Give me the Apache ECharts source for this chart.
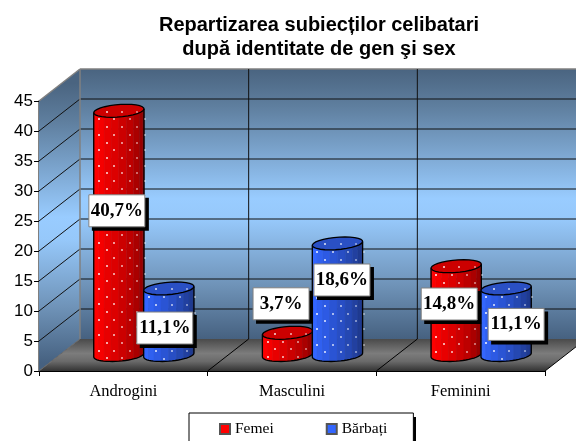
<!DOCTYPE html>
<html><head><meta charset="utf-8">
<style>html,body{margin:0;padding:0;background:#fff;overflow:hidden}#c{width:576px;height:441px}</style>
<script src="https://cdn.jsdelivr.net/npm/echarts@6/dist/echarts.min.js"></script>
</head><body><div id="c"></div>
<script>
const categories = ['Androgini', 'Masculini', 'Feminini'];
const femei = [40.7, 3.7, 14.8];
const barbati = [11.1, 18.6, 11.1];
const yTicks = {min: 0, max: 45, interval: 5};
const seriesNames = ['Femei', 'Bărbați'];

const DX = 41, DY = 32;            // oblique depth of the box
const BAR_DX = 20.5, BAR_DY = 16;  // bars stand half way into the box
const A = 24, VX = 7.5, VY = -6.5; // sheared circle of a cylinder
const T0 = Math.atan2(VX, A), FACETS = 10;
const palettes = [
  {facets:['#ff0000','#ff0000','#f60000','#e80000','#dc0000','#cc0000','#bd0000','#aa0000','#980000','#880000'], top:'#cc0000'},
  {facets:['#3366ff','#3366ff','#3060f0','#2d5ae4','#2a54d4','#284ec4','#2548b2','#2240a0','#1f3a90','#1c3480'], top:'#2a50c4'}
];
// label-box centre relative to the bar's base centre (x) and top (y)
const labelNudge = [
  [[-2, 100], [-4, 39.6]],
  [[-6.5, -29], [4.5, 36.6]],
  [[-7, 37.8], [10, 36]]
];

function ell(cx, cy, t) {
  return [cx + A * Math.cos(t) + VX * Math.sin(t), cy + VY * Math.sin(t)];
}
function frontY(cx, cy, x) {
  let lo = -Infinity, hi = Infinity;
  for (let i = 0; i < 120; i++) {
    const p = ell(cx, cy, i / 120 * Math.PI * 2);
    if (Math.abs(p[0] - x) < 1.6) { lo = Math.max(lo, p[1]); hi = Math.min(hi, p[1]); }
  }
  return [hi, lo];
}
function dot(x, y, alpha) {
  return {type:'rect', shape:{x:Math.round(x) - 1, y:Math.round(y) - 1, width:2, height:2},
    style:{fill:'rgba(255,255,255,' + alpha + ')'}, silent:true};
}
function cylinder(idx) {
  return function (params, api) {
    const i = api.value(0), v = api.value(1);
    const base = api.coord([i, 0]), top = api.coord([i, v]);
    const shift = (idx === 0 ? -1 : 1) * api.size([1, 0])[0] * 0.148;
    const cx = base[0] + BAR_DX + shift, by = base[1] - BAR_DY, ty = top[1] - BAR_DY;
    const pal = palettes[idx], ch = [];
    for (let k = 0; k < FACETS; k++) {
      const a = T0 + Math.PI + k * Math.PI / FACETS, b = T0 + Math.PI + (k + 1) * Math.PI / FACETS;
      ch.push({type:'polygon', shape:{points:[ell(cx, by, a), ell(cx, by, b), ell(cx, ty, b), ell(cx, ty, a)]},
        style:{fill:pal.facets[k], stroke:pal.facets[k], lineWidth:0.5}});
    }
    const outline = [];
    for (let k = 0; k <= 24; k++) outline.push(ell(cx, by, T0 + Math.PI + k * Math.PI / 24));
    outline.push(ell(cx, ty, T0));
    outline.unshift(ell(cx, ty, T0 + Math.PI));
    const lid = [];
    for (let k = 0; k < 28; k++) lid.push(ell(cx, ty, k * Math.PI * 2 / 28));
    ch.push({type:'polygon', shape:{points:lid}, style:{fill:pal.top, stroke:'#000', lineWidth:1.3}});
    ch.push({type:'polyline', shape:{points:outline}, style:{fill:null, stroke:'#000', lineWidth:1.3}});
    const left = cx - 25, stepX = 7.7, stepY = 7.7;
    for (let col = 0; col < 7; col++) {
      const x = left + 5 + col * stepX;
      const rng = frontY(cx, by, x), tr = frontY(cx, ty, x);
      const alpha = 0.72 - col * 0.06;
      for (let k = -1; ty + 1 + k * stepY < by + 10; k++) {
        if (((k + col) % 2 + 2) % 2 !== 1) continue;
        const py = ty + 1 + k * stepY;
        if (py > tr[0] + 1.5 && py < rng[1] - 2) ch.push(dot(x, py, alpha));
      }
    }
    return {type:'group', children:ch};
  };
}
function boxRender(params, api) {
  const cs = params.coordSys;
  const x0 = cs.x, x1 = cs.x + cs.width, y0 = cs.y + cs.height, y1 = cs.y;
  const band = cs.width / categories.length;
  const ch = [];
  const wall = (a, b) => ({type:'linear', x:0, y:a, x2:0, y2:b, global:true, colorStops:[
    {offset:0, color:'#4a6480'}, {offset:0.14, color:'#5f7f9f'}, {offset:0.48, color:'#99ccff'},
    {offset:0.56, color:'#96c8fa'}, {offset:0.8, color:'#6f93b8'}, {offset:1, color:'#466180'}]});
  ch.push({type:'polygon', shape:{points:[[x0 + DX, y1 - DY], [x1 + DX, y1 - DY], [x1 + DX, y0 - DY], [x0 + DX, y0 - DY]]},
    style:{fill:wall(y1 - DY, y0 - DY)}});
  ch.push({type:'polygon', shape:{points:[[x0, y1], [x0 + DX, y1 - DY], [x0 + DX, y0 - DY], [x0, y0]]},
    style:{fill:wall(y1 - 18, y0 - 8)}});
  ch.push({type:'polygon', shape:{points:[[x0, y0], [x0 + DX, y0 - DY], [x1 + DX, y0 - DY], [x1, y0]]},
    style:{fill:{type:'linear', x:0, y:y0 - DY, x2:0, y2:y0, global:true, colorStops:[
      {offset:0, color:'#4a4a4a'}, {offset:0.45, color:'#7c7c7c'}, {offset:0.7, color:'#6a6a6a'}, {offset:1, color:'#333333'}]}}});
  for (let v = yTicks.min + yTicks.interval; v <= yTicks.max - yTicks.interval; v += yTicks.interval) {
    const y = api.coord([0, v])[1];
    ch.push({type:'polyline', shape:{points:[[x0, y], [x0 + DX, y - DY], [x1 + DX, y - DY]]},
      style:{fill:null, stroke:'#111', lineWidth:1}});
  }
  ch.push({type:'line', shape:{x1:x0, y1:y1, x2:x0 + DX, y2:y1 - DY}, style:{stroke:'#808080', lineWidth:1.5}});
  ch.push({type:'line', shape:{x1:x0 + DX, y1:y1 - DY, x2:x1 + DX, y2:y1 - DY}, style:{stroke:'#808080', lineWidth:1.5}});
  ch.push({type:'line', shape:{x1:x0 + DX, y1:y1 - DY, x2:x0 + DX, y2:y0 - DY}, style:{stroke:'#808080', lineWidth:1.5}});
  ch.push({type:'line', shape:{x1:x0, y1:y0, x2:x0 + DX, y2:y0 - DY}, style:{stroke:'#666', lineWidth:1}});
  ch.push({type:'line', shape:{x1:x1, y1:y0, x2:x1 + DX, y2:y0 - DY}, style:{stroke:'#000', lineWidth:1}});
  for (let c = 1; c < categories.length; c++) {
    const x = x0 + c * band;
    ch.push({type:'line', shape:{x1:x + DX, y1:y0 - DY, x2:x + DX, y2:y1 - DY}, style:{stroke:'#111', lineWidth:1}});
    ch.push({type:'line', shape:{x1:x, y1:y0, x2:x + DX, y2:y0 - DY}, style:{stroke:'#000', lineWidth:1}});
  }
  return {type:'group', children:ch};
}
function labelRender(params, api) {
  const i = api.value(0), s = api.value(1), v = api.value(2);
  const base = api.coord([i, 0]), top = api.coord([i, v]);
  const shift = (s === 0 ? -1 : 1) * api.size([1, 0])[0] * 0.148;
  const n = labelNudge[i][s];
  const cx = base[0] + BAR_DX + shift + n[0], cy = top[1] - BAR_DY + n[1];
  const W = 56, H = 32;
  const txt = String(v).replace('.', ',') + '%';
  return {type:'group', children:[
    {type:'rect', shape:{x:cx - W / 2 + 3, y:cy - H / 2 + 3, width:W + 1, height:H + 1}, style:{fill:'#000'}},
    {type:'rect', shape:{x:cx - W / 2, y:cy - H / 2, width:W, height:H}, style:{fill:'#fff', stroke:'#808080', lineWidth:1}},
    {type:'text', style:{x:cx, y:cy, text:txt, align:'center', verticalAlign:'middle',
      font:'bold 19px "Liberation Serif"', fill:'#000'}}
  ]};
}
const labelData = [];
femei.forEach((v, i) => labelData.push([i, 0, v]));
barbati.forEach((v, i) => labelData.push([i, 1, v]));

const chart = echarts.init(document.getElementById('c'), null, {renderer:'canvas'});
chart.setOption({
  animation:false,
  backgroundColor:'#fff',
  title:{text:'Repartizarea subiecților celibatari\ndupă identitate de gen şi sex', left:314, top:8, textAlign:'center',
    textStyle:{fontFamily:'"Liberation Sans"', fontWeight:'bold', fontSize:20, lineHeight:24, color:'#000'}},
  grid:{left:39, top:101, width:506, height:270, containLabel:false},
  graphic:[{type:'rect', z:0, zlevel:0, silent:true, shape:{x:194, y:417, width:222, height:40}, style:{fill:'#000'}}],
  legend:{data:seriesNames, left:189, top:413, orient:'horizontal', padding:[8, 26, 15, 30], itemGap:52, itemWidth:10, itemHeight:10,
    icon:'rect', backgroundColor:'#fff', borderColor:'#000', borderWidth:1, z:6,
    textStyle:{fontFamily:'"Liberation Serif"', fontSize:15.5, color:'#000'}},
  xAxis:{type:'category', data:categories, boundaryGap:true,
    axisLine:{lineStyle:{color:'#000', width:1}}, axisTick:{show:true, length:5, alignWithLabel:false, lineStyle:{color:'#000'}},
    axisLabel:{fontFamily:'"Liberation Serif"', fontSize:16.5, color:'#000', margin:12}, splitLine:{show:false}},
  yAxis:{type:'value', min:yTicks.min, max:yTicks.max, interval:yTicks.interval,
    axisLine:{show:true, lineStyle:{color:'#555', width:1.5}}, axisTick:{show:true, length:5, lineStyle:{color:'#000'}},
    axisLabel:{fontFamily:'"Liberation Sans"', fontSize:17, color:'#000', margin:6}, splitLine:{show:false}},
  series:[
    {type:'custom', name:'box', silent:true, z:1, clip:false, renderItem:boxRender, data:[[0, 0]], encode:{x:0, y:1}},
    {type:'custom', name:seriesNames[0], z:3, renderItem:cylinder(0), itemStyle:{color:'#ff0000', borderColor:'#555', borderWidth:1},
      encode:{x:0, y:1}, data:femei.map((v, i) => [i, v])},
    {type:'custom', name:seriesNames[1], z:4, renderItem:cylinder(1), itemStyle:{color:'#3366ff', borderColor:'#555', borderWidth:1},
      encode:{x:0, y:1}, data:barbati.map((v, i) => [i, v])},
    {type:'custom', name:'labels', silent:true, z:5, renderItem:labelRender, encode:{x:0, y:2}, data:labelData}
  ]
});
</script></body></html>
